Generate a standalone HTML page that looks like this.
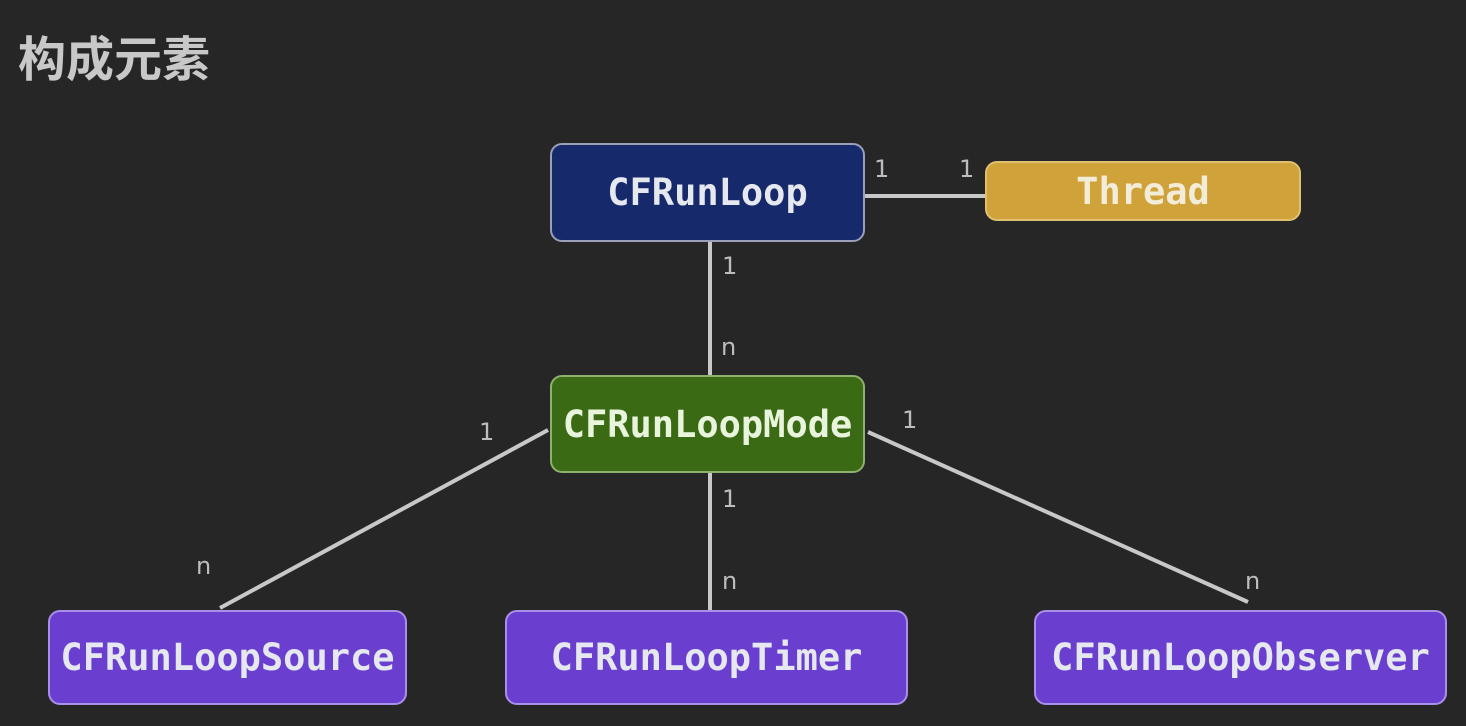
<!DOCTYPE html>
<html><head><meta charset="utf-8"><style>
body{margin:0;width:1466px;height:726px;background:#262626;position:relative;overflow:hidden;font-family:"Liberation Sans",sans-serif}
.t{position:absolute;left:18px;top:20px;font:bold 48px "Liberation Sans","Noto Sans CJK SC",sans-serif;color:#c8c8c8}
.b{position:absolute;box-sizing:border-box;border:2px solid #9aa0b8;border-radius:12px;display:flex;align-items:center;justify-content:center;font:bold 37px "DejaVu Sans Mono","Liberation Mono",monospace;color:#e6e8f0;letter-spacing:0}
.l{position:absolute;font-size:24px;color:#bdbdbd;font-family:"DejaVu Sans",sans-serif}
</style></head><body>
<div class="t">构成元素</div>
<svg width="1466" height="726" style="position:absolute;left:0;top:0">
<g stroke="#c8c8c8" stroke-width="4" fill="none">
<line x1="865" y1="196" x2="985" y2="196"/>
<line x1="710" y1="242" x2="710" y2="375"/>
<line x1="548" y1="430" x2="220" y2="608"/>
<line x1="710" y1="473" x2="710" y2="610"/>
<line x1="868" y1="432" x2="1248" y2="602"/>
</g></svg>
<div class="b" style="left:550px;top:143px;width:315px;height:99px;background:#16296a">CFRunLoop</div>
<div class="b" style="left:985px;top:161px;width:316px;height:60px;background:#cfa23a;border-color:#e0c070;color:#f3ecd8">Thread</div>
<div class="b" style="left:550px;top:375px;width:315px;height:98px;background:#3b6a14;border-color:#8fb070;color:#e8f5dc">CFRunLoopMode</div>
<div class="b" style="left:48px;top:610px;width:359px;height:95px;background:#6a3fd0;border-color:#a890e8">CFRunLoopSource</div>
<div class="b" style="left:505px;top:610px;width:403px;height:95px;background:#6a3fd0;border-color:#a890e8">CFRunLoopTimer</div>
<div class="b" style="left:1034px;top:610px;width:413px;height:95px;background:#6a3fd0;border-color:#a890e8">CFRunLoopObserver</div>
<div class="l" style="left:874px;top:155px">1</div>
<div class="l" style="left:959px;top:155px">1</div>
<div class="l" style="left:722px;top:252px">1</div>
<div class="l" style="left:721px;top:333px">n</div>
<div class="l" style="left:479px;top:418px">1</div>
<div class="l" style="left:196px;top:552px">n</div>
<div class="l" style="left:902px;top:406px">1</div>
<div class="l" style="left:722px;top:485px">1</div>
<div class="l" style="left:722px;top:567px">n</div>
<div class="l" style="left:1245px;top:567px">n</div>
</body></html>
